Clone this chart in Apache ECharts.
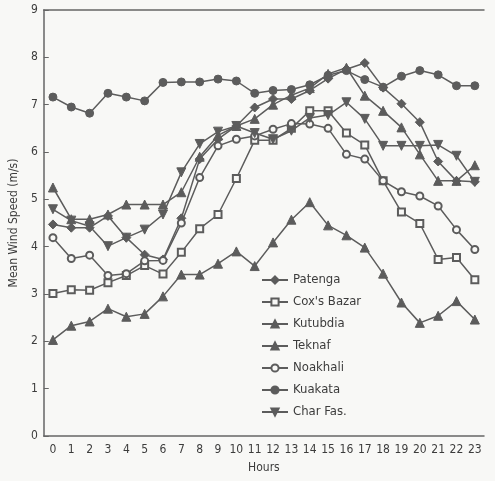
<!DOCTYPE html>
<html>
<head>
<meta charset="utf-8">
<script src="https://cdn.jsdelivr.net/npm/echarts@6/dist/echarts.min.js"></script>
<style>
html,body{margin:0;padding:0;background:#f8f8f6;}
#c{width:495px;height:481px;}
</style>
</head>
<body>
<div id="c"></div>
<script>
const hours = ['0','1','2','3','4','5','6','7','8','9','10','11','12','13','14','15','16','17','18','19','20','21','22','23'];
const yTicks = [0,1,2,3,4,5,6,7,8,9];

const patenga   = [4.47,4.40,4.40,4.65,4.19,3.83,3.73,4.60,5.85,6.27,6.55,6.94,7.12,7.12,7.30,7.55,7.75,7.88,7.36,7.02,6.63,5.80,5.39,5.37];
const coxsBazar = [3.01,3.09,3.08,3.24,3.39,3.60,3.42,3.88,4.38,4.68,5.44,6.25,6.25,6.50,6.87,6.87,6.40,6.15,5.39,4.73,4.49,3.73,3.77,3.30];
const kutubdia  = [5.25,4.58,4.58,4.68,4.89,4.89,4.89,5.15,5.90,6.35,6.55,6.70,7.00,7.20,7.35,7.65,7.78,7.19,6.87,6.52,5.95,5.39,5.39,5.72];
const teknaf    = [2.03,2.33,2.42,2.69,2.52,2.58,2.95,3.41,3.41,3.64,3.90,3.59,4.09,4.57,4.94,4.45,4.24,3.98,3.43,2.82,2.39,2.54,2.85,2.46];
const noakhali  = [4.19,3.75,3.82,3.39,3.43,3.70,3.71,4.50,5.46,6.13,6.27,6.34,6.48,6.60,6.59,6.50,5.95,5.85,5.39,5.16,5.07,4.86,4.36,3.94];
const kuakata   = [7.16,6.95,6.82,7.24,7.16,7.08,7.47,7.48,7.48,7.54,7.50,7.24,7.30,7.32,7.42,7.62,7.72,7.53,7.37,7.60,7.72,7.63,7.40,7.40];
const charFas   = [4.79,4.55,4.43,4.01,4.19,4.36,4.68,5.57,6.17,6.43,6.55,6.40,6.27,6.45,6.72,6.78,7.05,6.70,6.13,6.13,6.13,6.15,5.92,5.37];

const names = ['Patenga',"Cox's Bazar",'Kutubdia','Teknaf','Noakhali','Kuakata','Char Fas.'];

const INK = '#5c5c5c';
const FONT = "'Liberation Sans Narrow','DejaVu Sans Condensed','Liberation Sans',sans-serif";

function mk(name, data, symbol, size, open, rotate) {
  return {
    name: name, type: 'line', data: data,
    symbol: symbol, symbolSize: size, symbolRotate: rotate || 0,
    showAllSymbol: true,
    lineStyle: {color: INK, width: 1.5},
    itemStyle: open ? {color: '#f8f8f6', borderColor: INK, borderWidth: 2} : {color: INK, borderColor: INK, borderWidth: 1},
    emphasis: {disabled: true},
    animation: false
  };
}

const chart = echarts.init(document.getElementById('c'));
chart.setOption({
  backgroundColor: '#f8f8f6',
  animation: false,
  grid: {left: 40, right: 11, top: 10, bottom: 45},
  legend: {
    orient: 'vertical', left: 256, top: 268, itemGap: 8,
    itemWidth: 26, itemHeight: 9,
    textStyle: {fontFamily: FONT, fontSize: 13, color: '#3c3c3c', lineHeight: 14},
    data: names
  },
  xAxis: [{
    type: 'category', data: hours, boundaryGap: true,
    name: 'Hours', nameLocation: 'middle', nameGap: 26,
    nameTextStyle: {fontFamily: FONT, fontSize: 12, color: '#3c3c3c'},
    axisLine: {lineStyle: {color: '#666', width: 1.5}},
    axisTick: {alignWithLabel: true, inside: true, length: 5, lineStyle: {color: '#666'}},
    axisLabel: {fontFamily: FONT, fontSize: 12, color: '#3c3c3c', margin: 8, interval: 0}
  }, {
    type: 'category', data: hours, boundaryGap: true, position: 'top',
    axisLine: {lineStyle: {color: '#666', width: 1.5}},
    axisTick: {alignWithLabel: true, inside: true, length: 5, lineStyle: {color: '#666'}},
    axisLabel: {show: false}
  }],
  yAxis: {
    type: 'value', min: yTicks[0], max: yTicks[yTicks.length - 1], interval: 1,
    name: 'Mean Wind Speed (m/s)', nameLocation: 'middle', nameGap: 22,
    nameTextStyle: {fontFamily: FONT, fontSize: 12, color: '#3c3c3c'},
    axisLine: {show: true, lineStyle: {color: '#666', width: 1.5}},
    axisTick: {show: true, inside: true, length: 5, lineStyle: {color: '#666'}},
    axisLabel: {fontFamily: FONT, fontSize: 12, color: '#3c3c3c', margin: 6},
    splitLine: {show: false}
  },
  series: [
    mk(names[0], patenga, 'diamond', 9, false),
    mk(names[1], coxsBazar, 'rect', 7, true),
    mk(names[2], kutubdia, 'triangle', 9, false),
    mk(names[3], teknaf, 'triangle', 9, false),
    mk(names[4], noakhali, 'circle', 7, true),
    mk(names[5], kuakata, 'circle', 8, false),
    mk(names[6], charFas, 'triangle', 9, false, 180)
  ]
});
</script>
</body>
</html>
